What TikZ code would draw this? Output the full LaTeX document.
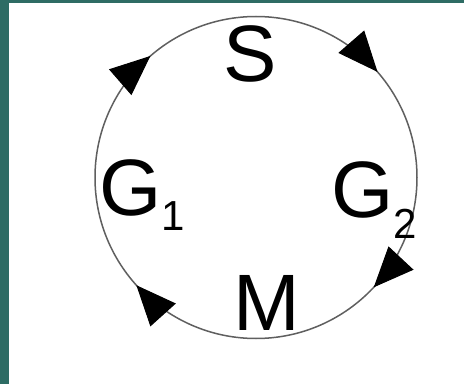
\documentclass[tikz,border=0pt]{standalone}
\usepackage{fontspec}
\setmainfont{Liberation Sans}
\usetikzlibrary{arrows.meta}
\definecolor{frameteal}{RGB}{46,108,100}
\definecolor{ringgray}{RGB}{95,95,95}

\begin{document}
\begin{tikzpicture}[
  x=1pt, y=1pt,
  % Node Styles
  lbl/.style={inner sep=0pt, font=\fontsize{80}{80}\selectfont},
  % Arrow Styles
  cyclearrow/.style={-{Triangle[length=40pt,width=34pt]}, draw=black, line width=1pt},
  ring/.style={draw=ringgray, line width=1.5pt},
]
\useasboundingbox (0,0) rectangle (464,384);
\fill[white] (0,0) rectangle (464,384);
\fill[frameteal] (0,0) rectangle (9,384);
\fill[frameteal] (0,381) rectangle (464,384);

% Cycle: S -> G2 -> M -> G1 -> S

\coordinate (O) at (256,206.5);
\draw[ring] (O) circle (161);

\node[lbl, anchor=base] (S) at (250,302) {S};
\node[lbl, anchor=base west] (G2) at (331,167) {G\raisebox{-21pt}{\fontsize{42}{42}\selectfont 2}};
\node[lbl, anchor=base] (M) at (267,54) {M};
\node[lbl, anchor=base west] (G1) at (99,169) {G\raisebox{-15pt}{\fontsize{42}{42}\selectfont 1}};

\draw[cyclearrow] ([shift={(45:161)}]O) arc (45:41:161);
\draw[cyclearrow] ([shift={(-39:161)}]O) arc (-39:-43:161);
\draw[cyclearrow] ([shift={(-134:161)}]O) arc (-134:-138:161);
\draw[cyclearrow] ([shift={(135:161)}]O) arc (135:131:161);

\end{tikzpicture}
\end{document}
